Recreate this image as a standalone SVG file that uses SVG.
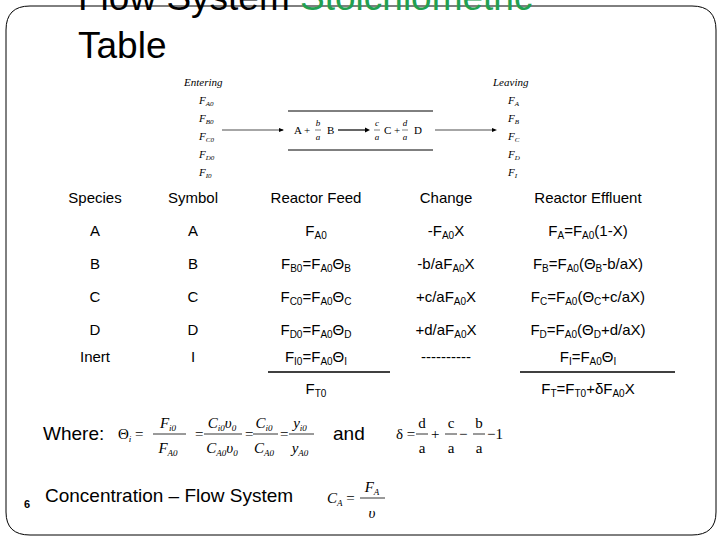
<svg xmlns="http://www.w3.org/2000/svg" width="720" height="540" viewBox="0 0 720 540">
<style>
.t{font-family:"Liberation Sans",Arial,sans-serif;font-size:15px;fill:#000;text-anchor:middle}
.s{font-size:10px}
.m{font-family:"Liberation Serif","Times New Roman",serif;fill:#000}
.mi{font-family:"Liberation Serif","Times New Roman",serif;font-style:italic;fill:#000}
</style>
<rect width="720" height="540" fill="#fff"/>
<path d="M30,6 H692 Q716,6 716,30 V512 Q716,535 692,535 H30 Q6,535 6,512 V30 Q6,6 30,6 Z" fill="none" stroke="#000" stroke-width="1"/>
<g id="title" font-family="Liberation Sans,Arial,sans-serif" font-size="37">
<text x="78" y="10">Flow System <tspan fill="#22a050">Stoichiometric</tspan></text>
<text x="78" y="58">Table</text>
</g>
<g id="reactor">
<text class="mi" x="184" y="86" font-size="11">Entering</text>
<g class="mi" font-size="11"><text x="199" y="104">F<tspan font-size="7" dy="2">A0</tspan></text><text x="199" y="122">F<tspan font-size="7" dy="2">B0</tspan></text><text x="199" y="140">F<tspan font-size="7" dy="2">C0</tspan></text><text x="199" y="158">F<tspan font-size="7" dy="2">D0</tspan></text><text x="199" y="176">F<tspan font-size="7" dy="2">I0</tspan></text></g>
<text class="mi" x="493" y="86" font-size="11">Leaving</text>
<g class="mi" font-size="11"><text x="508" y="104">F<tspan font-size="7" dy="2">A</tspan></text><text x="508" y="122">F<tspan font-size="7" dy="2">B</tspan></text><text x="508" y="140">F<tspan font-size="7" dy="2">C</tspan></text><text x="508" y="158">F<tspan font-size="7" dy="2">D</tspan></text><text x="508" y="176">F<tspan font-size="7" dy="2">I</tspan></text></g>
<line x1="288" y1="111" x2="433" y2="111" stroke="#000"/>
<line x1="288" y1="150" x2="433" y2="150" stroke="#000"/>
<line x1="222" y1="130" x2="283" y2="130" stroke="#000" stroke-width="0.7"/><path d="M284,130 l-5,-2 v4 z"/>
<line x1="435" y1="130" x2="494" y2="130" stroke="#000" stroke-width="0.7"/><path d="M497,130 l-5,-2 v4 z"/>
<line x1="338" y1="130" x2="366" y2="130" stroke="#000" stroke-width="1.2"/><path d="M370,130 l-5,-2.5 v5 z"/>
<g class="m" font-size="11"><text x="294" y="134">A +</text><text x="327" y="134">B</text><text x="384" y="134">C +</text><text x="414" y="134">D</text></g>
<g class="mi" font-size="9" text-anchor="middle"><text x="318" y="126">b</text><text x="318" y="140">a</text><text x="377" y="126">c</text><text x="377" y="140">a</text><text x="405" y="126">d</text><text x="405" y="140">a</text></g>
<g stroke="#000" stroke-width="0.5"><line x1="315" y1="130" x2="321" y2="130"/><line x1="374" y1="130" x2="380" y2="130"/><line x1="402" y1="130" x2="408" y2="130"/></g>
</g>
<g id="table" class="t">
<text x="95" y="203">Species</text><text x="193" y="203">Symbol</text><text x="316" y="203">Reactor Feed</text><text x="446" y="203">Change</text><text x="588" y="203">Reactor Effluent</text>
<text x="95" y="236">A</text><text x="193" y="236">A</text><text x="316" y="236">F<tspan class="s" dy="3">A0</tspan></text><text x="446" y="236">-F<tspan class="s" dy="3">A0</tspan><tspan dy="-3">X</tspan></text><text x="588" y="236">F<tspan class="s" dy="3">A</tspan><tspan dy="-3">=F</tspan><tspan class="s" dy="3">A0</tspan><tspan dy="-3">(1-X)</tspan></text>
<text x="95" y="269">B</text><text x="193" y="269">B</text><text x="316" y="269">F<tspan class="s" dy="3">B0</tspan><tspan dy="-3">=F</tspan><tspan class="s" dy="3">A0</tspan><tspan dy="-3">Θ</tspan><tspan class="s" dy="3">B</tspan></text><text x="446" y="269">-b/aF<tspan class="s" dy="3">A0</tspan><tspan dy="-3">X</tspan></text><text x="588" y="269">F<tspan class="s" dy="3">B</tspan><tspan dy="-3">=F</tspan><tspan class="s" dy="3">A0</tspan><tspan dy="-3">(Θ</tspan><tspan class="s" dy="3">B</tspan><tspan dy="-3">-b/aX)</tspan></text>
<text x="95" y="302">C</text><text x="193" y="302">C</text><text x="316" y="302">F<tspan class="s" dy="3">C0</tspan><tspan dy="-3">=F</tspan><tspan class="s" dy="3">A0</tspan><tspan dy="-3">Θ</tspan><tspan class="s" dy="3">C</tspan></text><text x="446" y="302">+c/aF<tspan class="s" dy="3">A0</tspan><tspan dy="-3">X</tspan></text><text x="588" y="302">F<tspan class="s" dy="3">C</tspan><tspan dy="-3">=F</tspan><tspan class="s" dy="3">A0</tspan><tspan dy="-3">(Θ</tspan><tspan class="s" dy="3">C</tspan><tspan dy="-3">+c/aX)</tspan></text>
<text x="95" y="335">D</text><text x="193" y="335">D</text><text x="316" y="335">F<tspan class="s" dy="3">D0</tspan><tspan dy="-3">=F</tspan><tspan class="s" dy="3">A0</tspan><tspan dy="-3">Θ</tspan><tspan class="s" dy="3">D</tspan></text><text x="446" y="335">+d/aF<tspan class="s" dy="3">A0</tspan><tspan dy="-3">X</tspan></text><text x="588" y="335">F<tspan class="s" dy="3">D</tspan><tspan dy="-3">=F</tspan><tspan class="s" dy="3">A0</tspan><tspan dy="-3">(Θ</tspan><tspan class="s" dy="3">D</tspan><tspan dy="-3">+d/aX)</tspan></text>
<text x="95" y="362">Inert</text><text x="193" y="362">I</text><text x="316" y="362">F<tspan class="s" dy="3">I0</tspan><tspan dy="-3">=F</tspan><tspan class="s" dy="3">A0</tspan><tspan dy="-3">Θ</tspan><tspan class="s" dy="3">I</tspan></text><text x="446" y="362">----------</text><text x="588" y="362">F<tspan class="s" dy="3">I</tspan><tspan dy="-3">=F</tspan><tspan class="s" dy="3">A0</tspan><tspan dy="-3">Θ</tspan><tspan class="s" dy="3">I</tspan></text>
<line x1="268" y1="372" x2="390" y2="372" stroke="#000" stroke-width="1.5"/><line x1="520" y1="372" x2="675" y2="372" stroke="#000" stroke-width="1.5"/>
<text x="316" y="394">F<tspan class="s" dy="3">T0</tspan></text>
<text x="588" y="394">F<tspan class="s" dy="3">T</tspan><tspan dy="-3">=F</tspan><tspan class="s" dy="3">T0</tspan><tspan dy="-3">+δF</tspan><tspan class="s" dy="3">A0</tspan><tspan dy="-3">X</tspan></text>
</g>
<g id="where">
<text x="43" y="440" font-family="Liberation Sans,Arial,sans-serif" font-size="19">Where:</text>
<text x="333" y="440" font-family="Liberation Sans,Arial,sans-serif" font-size="19">and</text>
<g class="m" font-size="15"><text x="118" y="439">Θ<tspan font-size="9" dy="3" font-style="italic">i</tspan><tspan dy="-3"> =</tspan></text><text x="195" y="439">=</text><text x="245" y="439">=</text><text x="280" y="439">=</text><text x="396" y="439">δ =</text><text x="431" y="439">+</text><text x="459" y="439">−</text><text x="487" y="439">−1</text></g>
<g class="mi" font-size="15" text-anchor="middle"><text x="168" y="428">F<tspan font-size="9" dy="3">i0</tspan></text><text x="168" y="453">F<tspan font-size="9" dy="3">A0</tspan></text><text x="222" y="428">C<tspan font-size="9" dy="3">i0</tspan><tspan dy="-3">υ</tspan><tspan font-size="9" dy="3">0</tspan></text><text x="222" y="453">C<tspan font-size="9" dy="3">A0</tspan><tspan dy="-3">υ</tspan><tspan font-size="9" dy="3">0</tspan></text><text x="264" y="428">C<tspan font-size="9" dy="3">i0</tspan></text><text x="264" y="453">C<tspan font-size="9" dy="3">A0</tspan></text><text x="300" y="428">y<tspan font-size="9" dy="3">i0</tspan></text><text x="300" y="453">y<tspan font-size="9" dy="3">A0</tspan></text></g>
<g class="m" font-size="15" text-anchor="middle"><text x="422" y="428">d</text><text x="422" y="453">a</text><text x="451" y="428">c</text><text x="451" y="453">a</text><text x="479" y="428">b</text><text x="479" y="453">a</text></g>
<g stroke="#000" stroke-width="0.8"><line x1="153" y1="434" x2="186" y2="434"/><line x1="204" y1="434" x2="242" y2="434"/><line x1="253" y1="434" x2="278" y2="434"/><line x1="289" y1="434" x2="314" y2="434"/><line x1="416" y1="434" x2="428" y2="434"/><line x1="445" y1="434" x2="457" y2="434"/><line x1="473" y1="434" x2="485" y2="434"/></g>
</g>
<g id="conc">
<text x="24" y="508" font-family="Liberation Sans,Arial,sans-serif" font-size="11" font-weight="bold">6</text>
<text x="45" y="502" font-family="Liberation Sans,Arial,sans-serif" font-size="19">Concentration – Flow System</text>
<text class="mi" x="327" y="503" font-size="15">C<tspan font-size="9" dy="3">A</tspan><tspan font-style="normal" dy="-3"> =</tspan></text>
<text class="mi" x="372" y="492" font-size="15" text-anchor="middle">F<tspan font-size="9" dy="3">A</tspan></text>
<text class="mi" x="372" y="518" font-size="15" text-anchor="middle">υ</text>
<line x1="360" y1="498" x2="385" y2="498" stroke="#000" stroke-width="0.8"/>
</g>
</svg>
